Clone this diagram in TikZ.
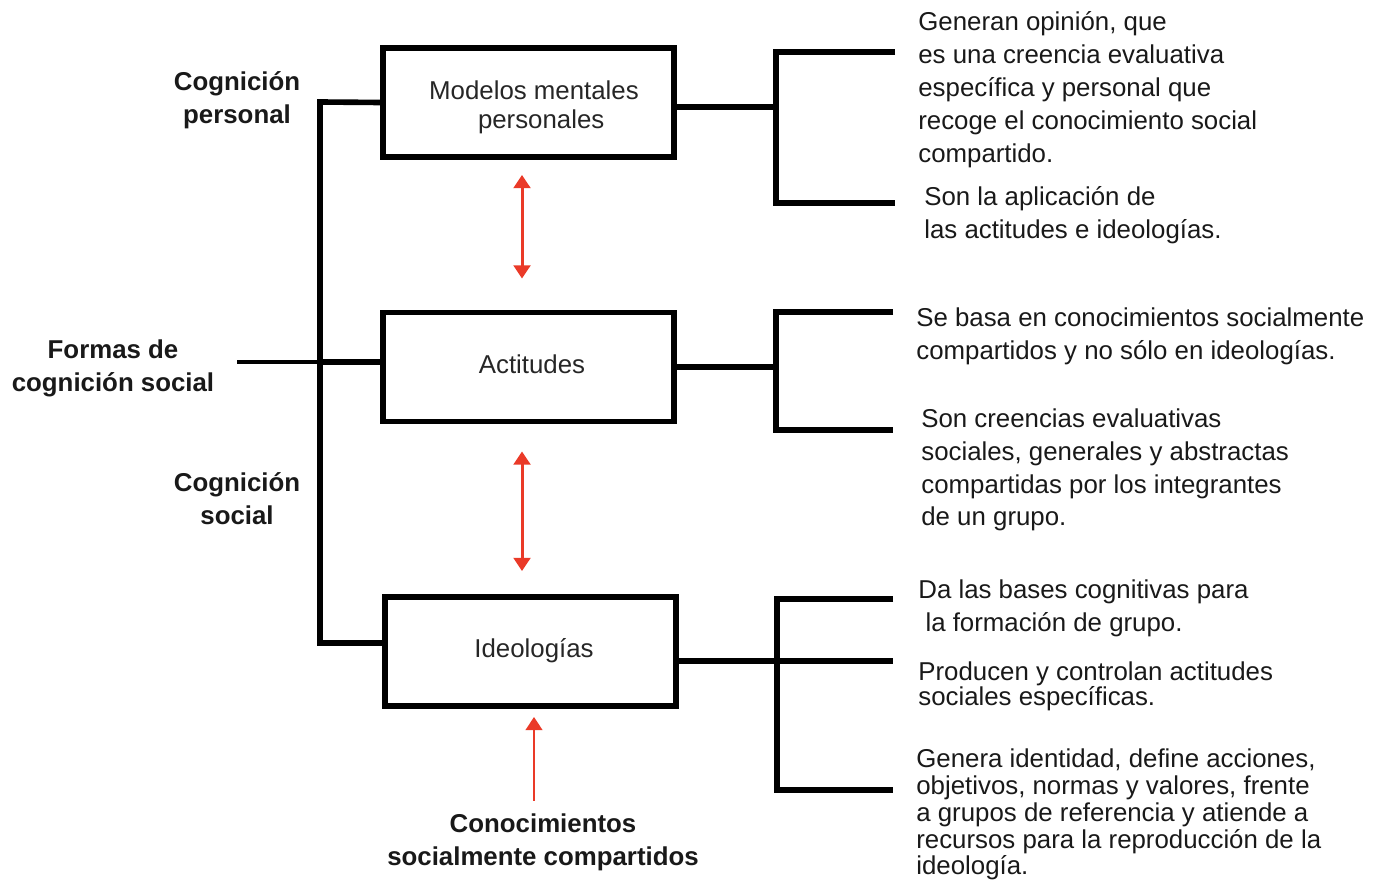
\documentclass[tikz,border=0pt]{standalone}
\usepackage{fontspec}
\setmainfont{Liberation Sans}
\usetikzlibrary{arrows.meta,positioning}
\definecolor{rojo}{RGB}{234,58,40}

\begin{document}
\begin{tikzpicture}[x=0.02cm,y=-0.02cm]
  \tikzstyle{every node}=[font=\fontsize{14.7}{18.7}\selectfont]
  \tikzstyle{forma}=[draw,line width=3.4pt,minimum width=5.82cm,minimum height=2.18cm]
  \tikzstyle{etiqueta}=[text=black!85,align=center]
  \tikzstyle{rama}=[line width=3.2pt]
  \tikzstyle{nota}=[anchor=west,align=left,inner sep=0pt,text=black!90]
  \tikzstyle{titulo}=[font=\fontsize{14.7}{18.7}\selectfont\bfseries,align=center,inner sep=0pt,text=black!90]
  \tikzstyle{relacion}=[rojo,line width=1.7pt,{Triangle[width=9.5pt,length=7.5pt]}-{Triangle[width=9.5pt,length=7.5pt]}]

  \useasboundingbox (0,0) rectangle (1388,881);

  % formas de cognicion
  \node[forma] (modelos) at (528.5,102.5) {};
  \node[forma] (actitudes) at (528.5,367) {};
  \node[forma] (ideologias) at (530.5,651.5) {};
  \node[etiqueta,font=\fontsize{14.7}{16.4}\selectfont] (modelos-txt) at (534,107) {Modelos mentales\\ \ \ personales};
  \node[etiqueta] (actitudes-txt) at (532,364) {Actitudes};
  \node[etiqueta] (ideologias-txt) at (534,651) {Ideologías};

  \node[titulo] (cogper) at (237,100.5) {Cognición\\personal};
  \node[titulo] (formas) at (113,368.5) {Formas de\\cognición social};
  \node[titulo] (cogsoc) at (237,498.5) {Cognición\\social};
  \node[titulo] (conocimientos) at (543,842.5) {Conocimientos\\socialmente compartidos};

  % llave izquierda
  \coordinate (arriba) at (320,102);
  \coordinate (cruce) at (320,362);
  \coordinate (abajo) at (320,643);
  \coordinate (formasfin) at (237,362);
  \draw[rama,line cap=rect] (modelos.west) -- (arriba) -- (abajo) -- (abajo -| ideologias.west);
  \draw[rama] (cruce) -- (cruce -| actitudes.west);
  \draw[line width=2.3pt] (formasfin) -- (cruce);

  % llaves derechas
  \coordinate (m1) at (776,107);
  \coordinate (m1a) at (895,52);
  \coordinate (m1b) at (895,203);
  \draw[rama] (m1 -| modelos.east) -- (m1);
  \draw[rama] (m1a) -- (m1a -| m1) -- (m1b -| m1) -- (m1b);

  \coordinate (m2) at (776,367);
  \coordinate (m2a) at (893,312);
  \coordinate (m2b) at (893,430);
  \draw[rama] (actitudes.east) -- (m2);
  \draw[rama] (m2a) -- (m2a -| m2) -- (m2b -| m2) -- (m2b);

  \coordinate (m3) at (777,661);
  \coordinate (m3a) at (893,599);
  \coordinate (m3b) at (893,790);
  \draw[rama] (m3 -| ideologias.east) -- (893,661);
  \draw[rama] (m3a) -- (m3a -| m3) -- (m3b -| m3) -- (m3b);

  % textos
  \node[nota] (t1) at (918,89.5) {Generan opinión, que\\es una creencia evaluativa\\específica y personal que\\recoge el conocimiento social\\compartido.};
  \node[nota] (t2) at (924,215) {Son la aplicación de\\las actitudes e ideologías.};
  \node[nota] (t3) at (916,336.5) {Se basa en conocimientos socialmente\\compartidos y no sólo en ideologías.};
  \node[nota] (t4) at (921,470) {Son creencias evaluativas\\sociales, generales y abstractas\\compartidas por los integrantes\\de un grupo.};
  \node[nota] (t5) at (918,608.5) {Da las bases cognitivas para\\\ la formación de grupo.};
  \node[nota,font=\fontsize{14.7}{14.2}\selectfont] (t6) at (918,686.5) {Producen y controlan actitudes\\sociales específicas.};
  \node[nota,font=\fontsize{14.7}{15.3}\selectfont] (t7) at (916,814.5) {Genera identidad, define acciones,\\objetivos, normas y valores, frente\\a grupos de referencia y atiende a\\recursos para la reproducción de la\\ideología.};

  % relaciones
  \coordinate (eje) at (522,0);
  \draw[relacion,shorten <=0.3cm,shorten >=0.62cm] (modelos.south -| eje) -- (actitudes.north -| eje);
  \draw[relacion,shorten <=0.54cm,shorten >=0.46cm] (actitudes.south -| eje) -- (ideologias.north -| eje);
  \coordinate (eje2) at (534,0);
  \draw[relacion,-{Triangle[width=9.5pt,length=7.5pt]},line width=1.3pt,shorten <=0.26cm,shorten >=0.16cm] (conocimientos.north -| eje2) -- (ideologias.south -| eje2);
\end{tikzpicture}
\end{document}
